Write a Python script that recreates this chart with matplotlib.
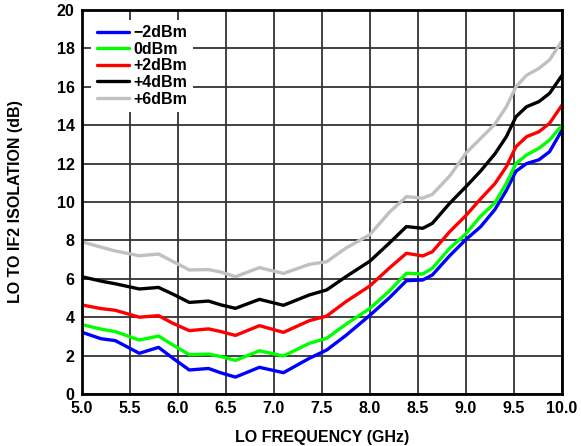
import matplotlib
matplotlib.use("Agg")
import matplotlib.pyplot as plt

plt.rcParams['font.family'] = ['Liberation Sans', 'DejaVu Sans']
plt.rcParams['font.weight'] = 'bold'

# LO frequency (GHz) sample points
freq = [5.0, 5.2, 5.35, 5.6, 5.8, 5.95, 6.12, 6.32, 6.45, 6.6, 6.85, 7.1, 7.37, 7.55,
        7.75, 8.0, 8.2, 8.38, 8.55, 8.65, 8.83, 9.0, 9.15, 9.3, 9.42, 9.52, 9.63,
        9.76, 9.87, 10.0]

# LO to IF2 isolation (dB) per LO drive level
iso_m2 = [3.22, 2.88, 2.78, 2.12, 2.43, 1.86, 1.25, 1.33, 1.1, 0.88, 1.39, 1.11, 1.86, 2.29,
          3.05, 4.1, 5.0, 5.9, 5.94, 6.2, 7.2, 8.05, 8.7, 9.6, 10.6, 11.6, 12.0,
          12.2, 12.62, 13.75]
iso_0 = [3.62, 3.38, 3.25, 2.81, 3.02, 2.55, 2.05, 2.08, 1.95, 1.75, 2.25, 1.98, 2.64, 2.9,
         3.63, 4.46, 5.35, 6.29, 6.25, 6.55, 7.59, 8.35, 9.25, 9.95, 10.97, 12.0, 12.45,
         12.8, 13.23, 14.0]
iso_p2 = [4.64, 4.45, 4.36, 4.0, 4.08, 3.68, 3.3, 3.39, 3.25, 3.05, 3.56, 3.21, 3.82, 4.06,
          4.81, 5.63, 6.55, 7.33, 7.19, 7.41, 8.45, 9.3, 10.15, 10.95, 11.84, 12.88, 13.4,
          13.66, 14.1, 15.05]
iso_p4 = [6.11, 5.88, 5.74, 5.47, 5.55, 5.2, 4.77, 4.84, 4.64, 4.46, 4.93, 4.62, 5.16, 5.42,
          6.11, 6.92, 7.85, 8.72, 8.63, 8.89, 9.93, 10.8, 11.6, 12.5, 13.4, 14.44, 14.96,
          15.23, 15.66, 16.6]
iso_p6 = [7.93, 7.65, 7.45, 7.2, 7.29, 6.9, 6.46, 6.48, 6.35, 6.11, 6.58, 6.28, 6.75, 6.89,
          7.6, 8.3, 9.45, 10.28, 10.2, 10.4, 11.35, 12.55, 13.3, 14.05, 14.96, 16.0, 16.6,
          16.96, 17.4, 18.4]

labels = ['\u22122dBm', '0dBm', '+2dBm', '+4dBm', '+6dBm']
colors = ['#0000ff', '#00ff00', '#ff0000', '#000000', '#c0c0c0']
series = [iso_m2, iso_0, iso_p2, iso_p4, iso_p6]

fig = plt.figure(figsize=(5.81, 4.46), dpi=100)
ax = fig.add_axes([0.1406, 0.1166, 0.8268, 0.861])

for vals, c, lab in zip(series, colors, labels):
    ax.plot(freq, vals, color=c, lw=2.4, label=lab,
            solid_capstyle='round', solid_joinstyle='round')

ax.set_xlim(5.0, 10.0)
ax.set_ylim(0, 20)
ax.set_xticks([5.0, 5.5, 6.0, 6.5, 7.0, 7.5, 8.0, 8.5, 9.0, 9.5, 10.0])
ax.set_xticklabels(['5.0', '5.5', '6.0', '6.5', '7.0', '7.5', '8.0', '8.5', '9.0', '9.5', '10.0'])
ax.set_yticks(range(0, 21, 2))
ax.grid(True, color='#333333', lw=1.3)
ax.set_axisbelow(True)
ax.tick_params(length=0, labelsize=11.5, pad=5)
for s in ax.spines.values():
    s.set_linewidth(2)

ax.set_xlabel('LO FREQUENCY (GHz)', fontsize=11.5, fontweight='bold', va='center')
ax.set_ylabel('LO TO IF2 ISOLATION (dB)', fontsize=11.5, fontweight='bold', va='center')
ax.xaxis.set_label_coords(0.5, -0.112)
ax.yaxis.set_label_coords(-0.137, 0.5)

leg = ax.legend(loc='upper left', frameon=True, fancybox=False, fontsize=11.5,
                handlelength=2.0, handletextpad=0.3, labelspacing=0.1,
                borderpad=0.35, borderaxespad=0.6)
leg.get_frame().set_edgecolor('none')
leg.get_frame().set_facecolor('white')
leg.get_frame().set_alpha(1)

fig.savefig('out.png', dpi=100)
